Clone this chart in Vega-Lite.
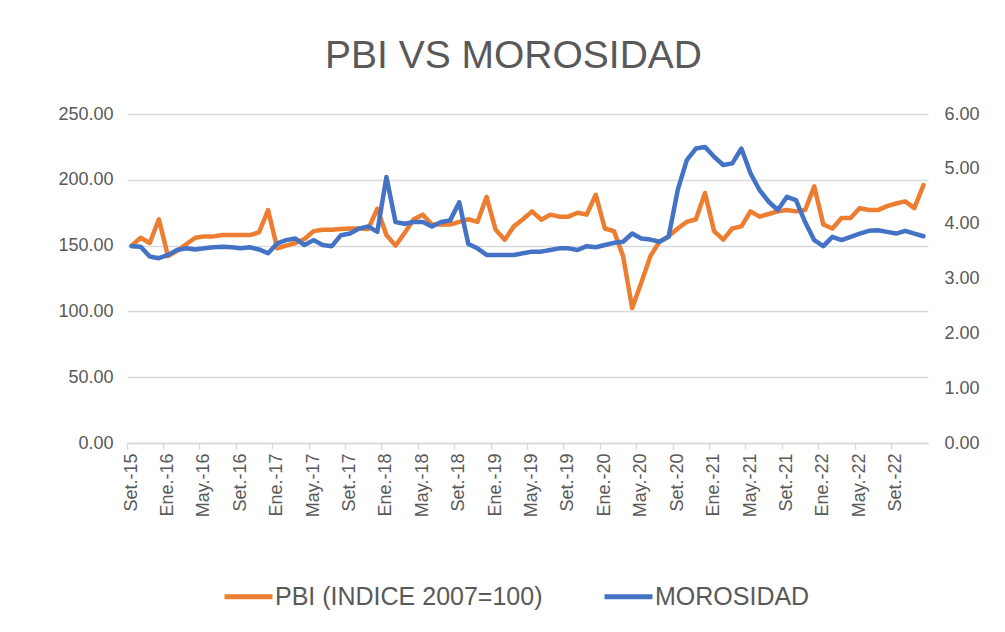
{
  "$schema": "https://vega.github.io/schema/vega-lite/v6.json",
  "width": 801,
  "height": 329,
  "autosize": {"type": "none"},
  "padding": {"left": 127, "top": 114, "right": 77, "bottom": 189},
  "background": "white",
  "title": {"text": "PBI VS MOROSIDAD", "fontSize": 39, "font": "Liberation Sans", "fontWeight": "normal", "color": "#595959", "anchor": "middle", "offset": 29, "dx": -14},
  "data": {"values": [
    {"mes": "Set.-15", "pbi": 150, "mor": 3.59},
    {"mes": "Oct.-15", "pbi": 156, "mor": 3.58},
    {"mes": "Nov.-15", "pbi": 152, "mor": 3.40},
    {"mes": "Dic.-15", "pbi": 170, "mor": 3.37},
    {"mes": "Ene.-16", "pbi": 142, "mor": 3.43},
    {"mes": "Feb.-16", "pbi": 146, "mor": 3.52},
    {"mes": "Mar.-16", "pbi": 151, "mor": 3.55},
    {"mes": "Abr.-16", "pbi": 156, "mor": 3.53},
    {"mes": "May.-16", "pbi": 157, "mor": 3.55},
    {"mes": "Jun.-16", "pbi": 157, "mor": 3.57},
    {"mes": "Jul.-16", "pbi": 158, "mor": 3.58},
    {"mes": "Ago.-16", "pbi": 158, "mor": 3.57},
    {"mes": "Set.-16", "pbi": 158, "mor": 3.55},
    {"mes": "Oct.-16", "pbi": 158, "mor": 3.57},
    {"mes": "Nov.-16", "pbi": 160, "mor": 3.53},
    {"mes": "Dic.-16", "pbi": 177, "mor": 3.46},
    {"mes": "Ene.-17", "pbi": 148, "mor": 3.64},
    {"mes": "Feb.-17", "pbi": 150, "mor": 3.70},
    {"mes": "Mar.-17", "pbi": 152, "mor": 3.73},
    {"mes": "Abr.-17", "pbi": 155, "mor": 3.61},
    {"mes": "May.-17", "pbi": 161, "mor": 3.70},
    {"mes": "Jun.-17", "pbi": 162, "mor": 3.61},
    {"mes": "Jul.-17", "pbi": 162, "mor": 3.59},
    {"mes": "Ago.-17", "pbi": 162.6, "mor": 3.79},
    {"mes": "Set.-17", "pbi": 163, "mor": 3.82},
    {"mes": "Oct.-17", "pbi": 163, "mor": 3.91},
    {"mes": "Nov.-17", "pbi": 162.6, "mor": 3.95},
    {"mes": "Dic.-17", "pbi": 178, "mor": 3.85},
    {"mes": "Ene.-18", "pbi": 158, "mor": 4.85},
    {"mes": "Feb.-18", "pbi": 150, "mor": 4.03},
    {"mes": "Mar.-18", "pbi": 159.6, "mor": 4.00},
    {"mes": "Abr.-18", "pbi": 170, "mor": 4.03},
    {"mes": "May.-18", "pbi": 173.5, "mor": 4.03},
    {"mes": "Jun.-18", "pbi": 166, "mor": 3.95},
    {"mes": "Jul.-18", "pbi": 166, "mor": 4.03},
    {"mes": "Ago.-18", "pbi": 166, "mor": 4.06},
    {"mes": "Set.-18", "pbi": 168, "mor": 4.39},
    {"mes": "Oct.-18", "pbi": 170, "mor": 3.63},
    {"mes": "Nov.-18", "pbi": 168, "mor": 3.55},
    {"mes": "Dic.-18", "pbi": 187, "mor": 3.43},
    {"mes": "Ene.-19", "pbi": 162, "mor": 3.43},
    {"mes": "Feb.-19", "pbi": 154.5, "mor": 3.43},
    {"mes": "Mar.-19", "pbi": 164.6, "mor": 3.43},
    {"mes": "Abr.-19", "pbi": 170, "mor": 3.46},
    {"mes": "May.-19", "pbi": 176, "mor": 3.49},
    {"mes": "Jun.-19", "pbi": 169.7, "mor": 3.49},
    {"mes": "Jul.-19", "pbi": 173.5, "mor": 3.52},
    {"mes": "Ago.-19", "pbi": 172, "mor": 3.55},
    {"mes": "Set.-19", "pbi": 172, "mor": 3.55},
    {"mes": "Oct.-19", "pbi": 175, "mor": 3.52},
    {"mes": "Nov.-19", "pbi": 173.5, "mor": 3.59},
    {"mes": "Dic.-19", "pbi": 188.6, "mor": 3.57},
    {"mes": "Ene.-20", "pbi": 163, "mor": 3.61},
    {"mes": "Feb.-20", "pbi": 161, "mor": 3.65},
    {"mes": "Mar.-20", "pbi": 142, "mor": 3.67},
    {"mes": "Abr.-20", "pbi": 102.5, "mor": 3.82},
    {"mes": "May.-20", "pbi": 121.7, "mor": 3.73},
    {"mes": "Jun.-20", "pbi": 142, "mor": 3.71},
    {"mes": "Jul.-20", "pbi": 153, "mor": 3.67},
    {"mes": "Ago.-20", "pbi": 157, "mor": 3.76},
    {"mes": "Set.-20", "pbi": 163, "mor": 4.61},
    {"mes": "Oct.-20", "pbi": 168, "mor": 5.16},
    {"mes": "Nov.-20", "pbi": 170, "mor": 5.37},
    {"mes": "Dic.-20", "pbi": 190, "mor": 5.40},
    {"mes": "Ene.-21", "pbi": 161, "mor": 5.22},
    {"mes": "Feb.-21", "pbi": 154.5, "mor": 5.07},
    {"mes": "Mar.-21", "pbi": 163, "mor": 5.10},
    {"mes": "Abr.-21", "pbi": 164.6, "mor": 5.37},
    {"mes": "May.-21", "pbi": 176, "mor": 4.92},
    {"mes": "Jun.-21", "pbi": 172, "mor": 4.61},
    {"mes": "Jul.-21", "pbi": 174, "mor": 4.40},
    {"mes": "Ago.-21", "pbi": 176, "mor": 4.25},
    {"mes": "Set.-21", "pbi": 177, "mor": 4.49},
    {"mes": "Oct.-21", "pbi": 176, "mor": 4.43},
    {"mes": "Nov.-21", "pbi": 177, "mor": 4.03},
    {"mes": "Dic.-21", "pbi": 195, "mor": 3.70},
    {"mes": "Ene.-22", "pbi": 166, "mor": 3.59},
    {"mes": "Feb.-22", "pbi": 163, "mor": 3.76},
    {"mes": "Mar.-22", "pbi": 171, "mor": 3.70},
    {"mes": "Abr.-22", "pbi": 171, "mor": 3.76},
    {"mes": "May.-22", "pbi": 178.5, "mor": 3.82},
    {"mes": "Jun.-22", "pbi": 177, "mor": 3.87},
    {"mes": "Jul.-22", "pbi": 177, "mor": 3.88},
    {"mes": "Ago.-22", "pbi": 180, "mor": 3.85},
    {"mes": "Set.-22", "pbi": 182, "mor": 3.82},
    {"mes": "Oct.-22", "pbi": 183.6, "mor": 3.87},
    {"mes": "Nov.-22", "pbi": 178.5, "mor": 3.82},
    {"mes": "Dic.-22", "pbi": 196, "mor": 3.77}
  ]},
  "layer": [
    {
      "mark": {"type": "line", "strokeWidth": 4.5, "strokeJoin": "round", "strokeCap": "round"},
      "encoding": {
        "x": {
          "field": "mes", "type": "ordinal", "sort": null, "bandPosition": 0.5,
          "scale": {"type": "band", "paddingInner": 0, "paddingOuter": 0},
          "axis": {
            "values": ["Set.-15","Ene.-16","May.-16","Set.-16","Ene.-17","May.-17","Set.-17","Ene.-18","May.-18","Set.-18","Ene.-19","May.-19","Set.-19","Ene.-20","May.-20","Set.-20","Ene.-21","May.-21","Set.-21","Ene.-22","May.-22","Set.-22"],
            "bandPosition": 0,
            "labelAngle": -90, "labelAlign": "right", "labelBaseline": "middle",
            "labelFontSize": 18, "labelFont": "Liberation Sans", "labelColor": "#595959",
            "labelPadding": 4, "labelOverlap": false,
            "tickSize": 6, "tickColor": "#d9d9d9", "tickWidth": 1.5,
            "domainColor": "#d9d9d9", "domainWidth": 1.5,
            "grid": false, "title": null
          }
        },
        "y": {
          "field": "pbi", "type": "quantitative",
          "scale": {"domain": [0, 250]},
          "axis": {
            "values": [0, 50, 100, 150, 200, 250], "format": ".2f",
            "grid": true, "gridColor": "#d9d9d9", "gridWidth": 1.5,
            "domain": false, "ticks": false, "labelPadding": 14,
            "labelFontSize": 18, "labelFont": "Liberation Sans", "labelColor": "#595959",
            "title": null
          }
        },
        "color": {
          "datum": "PBI (INDICE 2007=100)", "type": "nominal",
          "scale": {"domain": ["PBI (INDICE 2007=100)", "MOROSIDAD"], "range": ["#ED7D31", "#4472C4"]},
          "legend": {
            "orient": "none", "legendX": 95, "legendY": 456, "direction": "horizontal",
            "title": null, "symbolType": "stroke", "symbolSize": 2304, "symbolStrokeWidth": 5,
            "labelFontSize": 25, "labelFont": "Liberation Sans", "labelColor": "#595959",
            "labelOffset": 0, "columnPadding": 51, "labelLimit": 0
          }
        }
      }
    },
    {
      "mark": {"type": "line", "strokeWidth": 4.5, "strokeJoin": "round", "strokeCap": "round"},
      "encoding": {
        "x": {"field": "mes", "type": "ordinal", "sort": null, "bandPosition": 0.5},
        "y": {
          "field": "mor", "type": "quantitative",
          "scale": {"domain": [0, 6]},
          "axis": {
            "orient": "right", "values": [0, 1, 2, 3, 4, 5, 6], "format": ".2f",
            "grid": false, "domain": false, "ticks": false, "labelPadding": 16,
            "labelFontSize": 18, "labelFont": "Liberation Sans", "labelColor": "#595959",
            "title": null
          }
        },
        "color": {"datum": "MOROSIDAD", "type": "nominal"}
      }
    }
  ],
  "resolve": {"scale": {"y": "independent"}},
  "config": {"view": {"stroke": null}}
}
